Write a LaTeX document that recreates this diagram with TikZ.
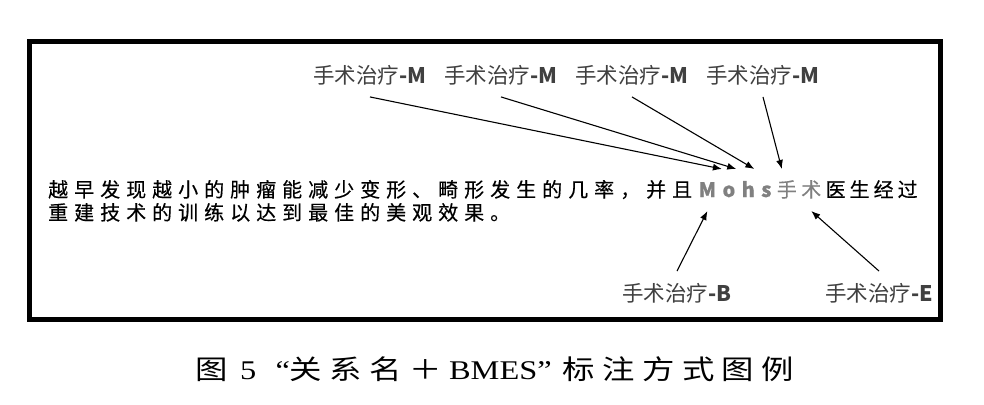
\documentclass[tikz,border=0pt]{standalone}
\usepackage{fontspec}
\setmainfont{Liberation Serif}
\newfontfamily\hei{Noto Sans CJK SC}
\newfontfamily\heiesp[LetterSpace=30, FakeBold=0.4]{Noto Sans CJK SC}
\newfontfamily\song[LetterSpace=23]{Noto Sans CJK SC}
\usetikzlibrary{arrows.meta}

\begin{document}
\begin{tikzpicture}
	[x=1pt, y=-1pt,
	rotulo/.style	={font=\hei\fontsize{21.5}{23}\selectfont, text=black!75, inner sep=0pt, outer ysep=12pt},
	texto/.style	={font=\heiesp\fontsize{20}{23}\selectfont, inner xsep=3pt, inner ysep=0pt, text height=17pt, text depth=3pt, outer ysep=11pt, anchor=base west},
	cinza/.style	={texto, text=black!50, inner xsep=2pt},
	negrito/.style	={texto, text=black!50, font=\heiesp\bfseries\fontsize{20}{23}\selectfont},
	seta/.style		={-{Latex[length=9pt, width=7pt]}, line width=1.1pt}]
	\useasboundingbox (0,0) rectangle (984,404);
	\draw[line width=5pt] (29.5,41.5) rectangle (940.5,319.5);
	% frase
	\node[texto]	(ini)	at (45,197)		{越早发现越小的肿瘤能减少变形、畸形发生的几率，并且};
	\node[negrito]	(m)		at (ini.base east)	{M};
	\node[negrito]	(o)		at (m.base east)	{o};
	\node[negrito]	(h)		at (o.base east)	{h};
	\node[negrito]	(s)		at (h.base east)	{s};
	\node[cinza]	(shou)	at (s.base east)	{手};
	\node[cinza]	(shu)	at (shou.base east)	{术};
	\node[texto, inner xsep=2pt]	(fim)	at (shu.base east)	{\addfontfeature{LetterSpace=20}医生经过};
	\node[texto]	(lin2)	at (45,220)		{重建技术的训练以达到最佳的美观效果。};
	% rotulos
	\node[rotulo]	(tm1)	at (370,75)	{手术治疗\textbf{-M}};
	\node[rotulo, right of=tm1, node distance=131pt]	(tm2)	{手术治疗\textbf{-M}};
	\node[rotulo, right of=tm2, node distance=131pt]	(tm3)	{手术治疗\textbf{-M}};
	\node[rotulo, right of=tm3, node distance=131pt]	(tm4)	{手术治疗\textbf{-M}};
	\node[rotulo]	(tb)	at (677,293)	{手术治疗\textbf{-B}};
	\node[rotulo]	(te)	at (879,293)	{手术治疗\textbf{-E}};
	\draw[seta] (tm1.south) -- ([xshift=-7pt]o.north);
	\draw[seta] (tm2.south) -- ([xshift=-12pt]h.north);
	\draw[seta] (tm3.south) -- ([xshift=-12pt]s.north);
	\draw[seta] (tm4.south) -- ([xshift=-5pt]shou.north);
	\draw[seta] (tb.north) -- (m.south);
	\draw[seta] (te.north) -- (shu.south);
	% legenda
	\node[font=\fontsize{27}{30}\selectfont, xscale=1.2, transform shape] (leg) at (495,369)
		{{\song 图}\hspace{10pt}5\hspace{16pt}“{\song 关系名＋}\hspace{6pt}BMES”\hspace{9pt}{\song 标注方式图例}};
\end{tikzpicture}
\end{document}
